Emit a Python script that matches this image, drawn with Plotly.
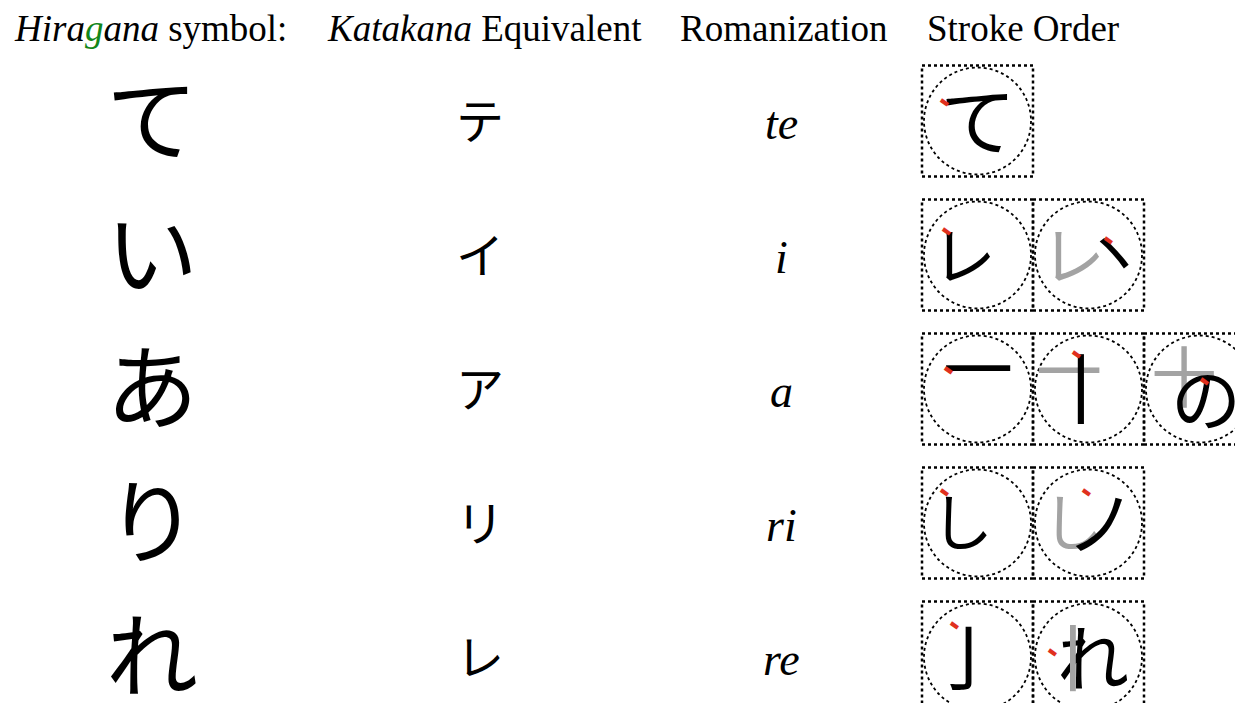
import plotly.graph_objects as go

# ---- data ----
headers = ["<i>Hira<span style='color:#12861a'>g</span>ana</i> symbol:",
           "<i>Katakana</i> Equivalent",
           "Romanization",
           "Stroke Order"]
hiragana = ["て", "い", "あ", "り", "れ"]
katakana = ["テ", "イ", "ア", "リ", "レ"]
romaji = ["te", "i", "a", "ri", "re"]
# stroke-order frames; each frame is a list of glyph layers (glyph, is_current_stroke)
stroke_frames = [
    [[("て", True)]],
    [[("レ", True)], [("レ", False), ("ヽ", True)]],
    [[("一", True)], [("一", False), ("丨", True)], [("十", False), ("の", True)]],
    [[("し", True)], [("し", False), ("ノ", True)]],
    [[("亅", True)], [("れ", True), ("丨", False)]],
]
# per-layer placement inside the box: (dx, dy, font size)
layer_place = [
    [[(0, 0, 76)]],
    [[(-14, 0, 64)], [(-16, 0, 64), (24, -4, 64)]],
    [[(0, -20, 70)], [(-20, -18, 66), (-8, 0, 76)], [(-16, -12, 66), (6, 10, 70)]],
    [[(-16, 0, 62)], [(-16, 0, 62), (12, 0, 70)]],
    [[(-10, 0, 72)], [(4, 0, 72), (-16, 0, 72)]],
]
# red stroke-start marks, offset from the box centre: (dx, dy)
start_marks = [
    [(-33, -20)],
    [(-31, -25), (20, -16)],
    [(-29, -20), (-12, -36), (5, -9)],
    [(-33, -32), (-2, -32)],
    [(-23, -33), (-36, -6)],
]

# ---- layout constants (screen pixels; page body has an 8px margin) ----
W, H = 1243, 711
PAD = 8
header_x = [12, 325, 678, 925]
header_y = 28
row_y0, row_dy = 121, 134
col_hira, col_kata, col_roma = 152, 480, 781
box_x0, box_w = 922, 111

annotations = []
shapes = []

for hx, ht in zip(header_x, headers):
    annotations.append(dict(x=hx, y=header_y, text=ht, xanchor="left", yanchor="middle",
                            showarrow=False,
                            font=dict(family="Liberation Serif", size=37, color="black")))

for i in range(len(hiragana)):
    cy = row_y0 + i * row_dy
    annotations.append(dict(x=col_hira, y=cy, text=hiragana[i], showarrow=False, yshift=8,
                            font=dict(family="Noto Sans CJK JP", size=92, color="black")))
    annotations.append(dict(x=col_kata, y=cy, text=katakana[i], showarrow=False, yshift=3,
                            font=dict(family="Noto Sans CJK JP", size=48, color="black")))
    annotations.append(dict(x=col_roma, y=cy, text="<i>" + romaji[i] + "</i>", showarrow=False,
                            yshift=-2,
                            font=dict(family="Liberation Serif", size=46, color="black")))
    for j, frame in enumerate(stroke_frames[i]):
        x0 = box_x0 + j * box_w
        y0 = cy - box_w / 2
        cx = x0 + box_w / 2
        shapes.append(dict(type="rect", x0=x0, x1=x0 + box_w, y0=y0, y1=y0 + box_w,
                           line=dict(color="black", width=2.5, dash="3px,3px")))
        shapes.append(dict(type="circle", x0=x0 + 2, x1=x0 + box_w - 2, y0=y0 + 2, y1=y0 + box_w - 2,
                           line=dict(color="black", width=1.8, dash="3px,3px")))
        for (glyph, current), (dx, dy, fs) in zip(frame, layer_place[i][j]):
            annotations.append(dict(x=cx, y=cy, text=glyph, showarrow=False,
                                    xshift=dx, yshift=4 - dy,
                                    font=dict(family="Noto Sans CJK JP", size=fs,
                                              color="black" if current else "#a3a3a3")))
        mdx, mdy = start_marks[i][j]
        annotations.append(dict(x=cx + mdx, y=cy + mdy, text="<b>▬</b>", showarrow=False,
                                textangle=35,
                                font=dict(family="DejaVu Sans", size=11, color="#e0301e")))

fig = go.Figure()
fig.update_layout(
    width=W - 2 * PAD, height=H - 2 * PAD, margin=dict(l=0, r=0, t=0, b=0),
    paper_bgcolor="white", plot_bgcolor="white",
    xaxis=dict(range=[PAD, W - PAD], visible=False, fixedrange=True),
    yaxis=dict(range=[H - PAD, PAD], visible=False, fixedrange=True),
    annotations=annotations, shapes=shapes, showlegend=False,
)
fig.write_html("out.html")
